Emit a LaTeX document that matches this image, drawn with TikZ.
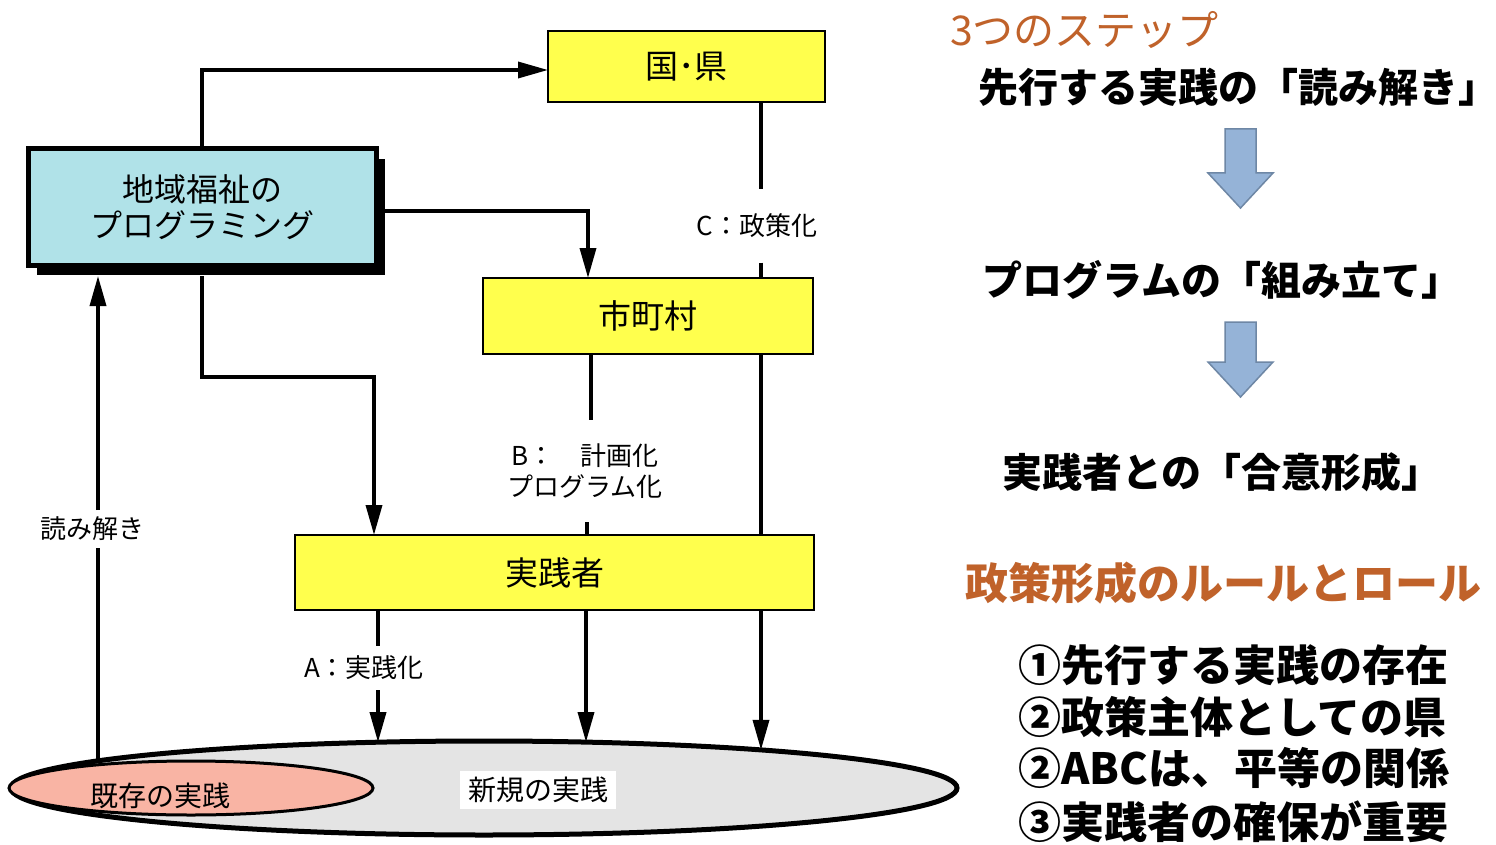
\documentclass[tikz,border=0pt]{standalone}
\usepackage{fontspec}
\setmainfont{Noto Sans CJK JP}
\usetikzlibrary{arrows.meta,shapes.geometric,shadows}
\definecolor{boxyellow}{RGB}{255,255,77}
\definecolor{boxcyan}{RGB}{176,226,232}
\definecolor{salmonfill}{RGB}{249,180,164}
\definecolor{ellgray}{RGB}{228,228,228}
\definecolor{orangetxt}{RGB}{192,98,42}
\definecolor{arrowfill}{RGB}{149,179,215}
\definecolor{arrowdraw}{RGB}{110,135,165}
\begin{document}
\begin{tikzpicture}[x=1pt,y=-1pt,
  ybox/.style={draw=black, line width=2.5pt, fill=boxyellow, inner sep=0pt, outer sep=0pt, font=\fontsize{33}{38}\selectfont},
  conn/.style={line width=3.5pt},
  arr/.style={line width=3.5pt, -{Triangle[length=30pt,width=16pt]}},
  lab/.style={inner sep=0pt, outer sep=0pt, font=\fontsize{26}{31}\selectfont, align=center},
  elllab/.style={inner sep=0pt, outer sep=0pt, font=\fontsize{28}{32}\selectfont},
  steptxt/.style={inner sep=0pt, font=\bfseries\fontsize{40}{46}\selectfont},
  ruletxt/.style={inner sep=0pt, anchor=west, font=\bfseries\fontsize{43}{50}\selectfont},
  blockarrow/.style={fill=arrowfill, draw=arrowdraw, line width=1.5pt, line join=miter}
]
\useasboundingbox (0,0) rectangle (1496,845);
\fill[white] (0,0) rectangle (1496,845);

% ---- boxes ----
\node[ybox, minimum width=277pt, minimum height=71pt] (kuni) at (686.5,66.5) {国･県};
\node[ybox, minimum width=330pt, minimum height=76pt] (shicho) at (648,316) {市町村};
\node[ybox, minimum width=519pt, minimum height=75pt] (jissen) at (554.5,572.5) {実践者};
\node[draw=black, line width=5pt, fill=boxcyan, minimum width=348pt, minimum height=116pt,
      inner sep=0pt, outer sep=0pt, align=center, font=\fontsize{32}{36}\selectfont,
      drop shadow={shadow xshift=9pt, shadow yshift=-10pt, fill=black, opacity=1}] (chiiki) at (202,207) {地域福祉の\\プログラミング};

% ---- ellipses ----
\node[ellipse, draw=black, line width=5pt, fill=ellgray, minimum width=946pt, minimum height=94pt, inner sep=0pt, outer sep=0pt] (ell) at (484,788) {};
\node[ellipse, draw=black, line width=3pt, fill=salmonfill, minimum width=364pt, minimum height=54pt, inner sep=0pt, outer sep=0pt] (kizon) at (191,788) {};
\node[elllab] (kizonlab) at (160,796) {既存の実践};
\node[elllab, fill=white, inner xsep=8pt, inner ysep=6pt] (shinki) at (538,790) {新規の実践};

% ---- coordinates ----
\coordinate (eA) at ([xshift=-106pt,yshift=45.8pt]ell.center);
\coordinate (eM) at ([xshift=102pt,yshift=45.9pt]ell.center);
\coordinate (eC) at ([xshift=277pt,yshift=38.1pt]ell.center);
\coordinate (eY) at ([xshift=-386pt,yshift=27.2pt]ell.center);
\coordinate (tx) at (202,0);
\coordinate (kin) at ([yshift=-3.5pt]kuni.west);
\coordinate (cr) at ([yshift=-4pt]chiiki.east);
\coordinate (sx) at (588,0);
\coordinate (chbot) at ([yshift=-11pt]chiiki.south);
\coordinate (kink) at (374,377);
\coordinate (b1) at (591,0);
\coordinate (b2) at (587,0);

% ---- labels on connectors ----
\node[lab, minimum height=73pt] (clab) at (757,226) {C：政策化};
\node[lab, minimum height=102pt] (blab) at (585,471) {B：　計画化\\プログラム化};
\node[lab, minimum height=44pt] (alab) at (364,668) {A：実践化};
\node[lab, minimum height=38pt] (ylab) at (92,529) {読み解き};

% ---- connectors ----
\draw[arr] (chiiki.north -| tx) |- (kin);
\draw[arr] (cr) -| (shicho.north -| sx);
\draw[arr] (chbot) |- (kink) -- (jissen.north -| kink);

\draw[conn] (kuni.south -| eC) -- (clab.north -| eC);
\draw[conn] (clab.south -| eC) -- (shicho.north -| eC);
\draw[conn] (shicho.south -| eC) -- (jissen.north -| eC);
\draw[arr] (jissen.south -| eC) -- (eC);

\draw[conn] (shicho.south -| b1) -- (blab.north -| b1);
\draw[conn] (blab.south -| b2) -- (jissen.north -| b2);

\draw[conn] (jissen.south -| eA) -- (alab.north -| eA);
\draw[arr] (alab.south -| eA) -- (eA);

\draw[arr] (jissen.south -| eM) -- (eM);

\draw[conn] (eY) -- (ylab.south -| eY);
\draw[arr] (ylab.north -| eY) -- (chbot -| eY);

% ---- right side ----
\node[anchor=west, inner sep=0pt, text=orangetxt, font=\fontsize{41}{48}\selectfont] (t1) at (950,30) {3つのステップ};
\node[steptxt, anchor=west] (s1) at (978,87) {先行する実践の「読み解き」};
\node[steptxt] (s2) at (1222,280) {プログラムの「組み立て」};
\node[steptxt] (s3) at (1222,472) {実践者との「合意形成」};

\draw[blockarrow] (1225,129) -- (1256,129) -- (1256,173) -- (1273,173) -- (1240.5,208) -- (1208,173) -- (1225,173) -- cycle;
\draw[blockarrow] (1225,322) -- (1256,322) -- (1256,362) -- (1273,362) -- (1240.5,397) -- (1208,362) -- (1225,362) -- cycle;

\node[ruletxt, text=orangetxt] (t2) at (965,583) {政策形成のルールとロール};
\node[ruletxt] (r1) at (1018,665) {①先行する実践の存在};
\node[ruletxt] (r2) at (1018,717) {②政策主体としての県};
\node[ruletxt] (r3) at (1018,768) {②ABCは、平等の関係};
\node[ruletxt] (r4) at (1018,822) {③実践者の確保が重要};
\end{tikzpicture}
\end{document}
